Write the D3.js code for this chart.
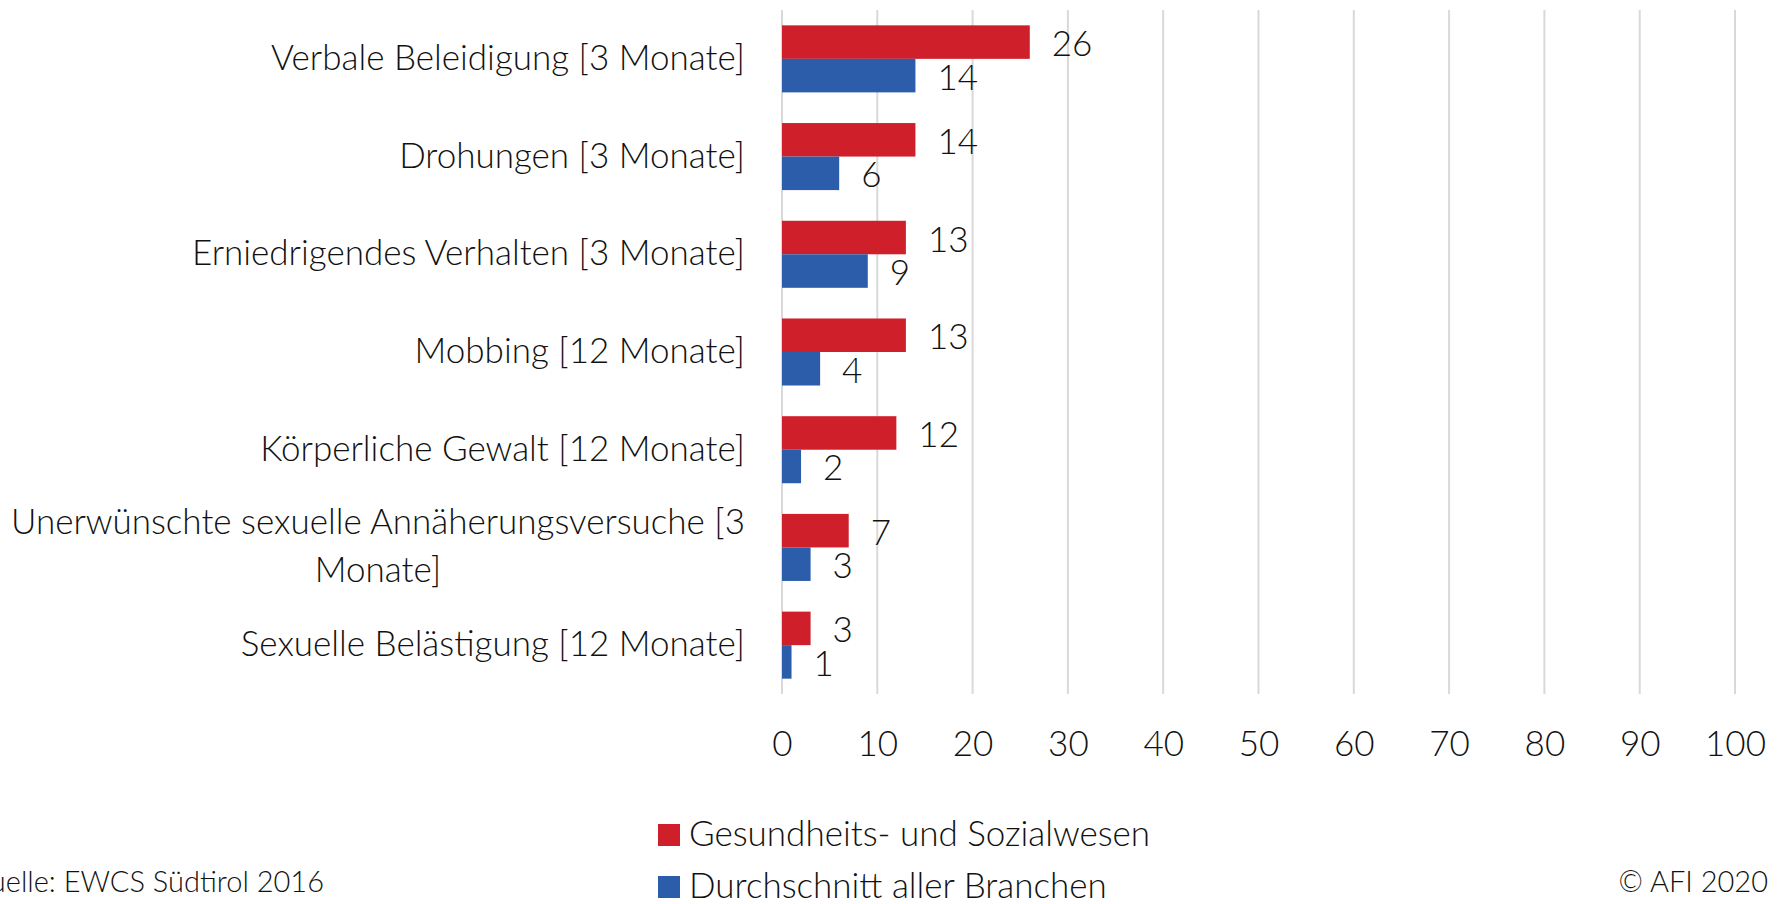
<!DOCTYPE html>
<html>
<head>
<meta charset="utf-8">
<style>
  body { margin: 0; background: #fff; }
  svg { display: block; }
  text { font-family: "Source Sans Pro", "Lato", sans-serif; font-weight: 300; fill: #111; }
</style>
</head>
<body>
<div class="chart"></div>
<script src="https://d3js.org/d3.v7.min.js"></script>
<script>
  // Daten
  const categories = [
    'Verbale Beleidigung [3 Monate]',
    'Drohungen [3 Monate]',
    'Erniedrigendes Verhalten [3 Monate]',
    'Mobbing [12 Monate]',
    'Körperliche Gewalt [12 Monate]',
    'Unerwünschte sexuelle Annäherungsversuche [3\nMonate]',
    'Sexuelle Belästigung [12 Monate]'
  ]
  const seriesNames = ['Gesundheits- und Sozialwesen', 'Durchschnitt aller Branchen']
  const gesundheit = [26, 14, 13, 13, 12, 7, 3]
  const durchschnitt = [14, 6, 9, 4, 2, 3, 1]
  const xTicks = [0, 10, 20, 30, 40, 50, 60, 70, 80, 90, 100]
  const sourceText = 'Quelle: EWCS Südtirol 2016'
  const copyText = '© AFI 2020'

  const colors = ['#CF1F2B', '#2B5DAA']
  const fontSize = 35
  const footSize = 29

  const width = 1783, height = 904
  const plot = { left: 782, right: 1735, top: 10, bottom: 694 }

  const svg = d3.select('.chart')
                .append('svg')
                .attr('width', width)
                .attr('height', height)

  const xScale = d3.scaleLinear()
                   .domain([0, 100])
                   .range([plot.left, plot.right])

  const yScale = d3.scaleBand()
                   .domain(categories)
                   .range([plot.top, plot.bottom])
                   .paddingInner(0.314)
                   .paddingOuter(0.157)

  const ySub = d3.scaleBand()
                 .domain(seriesNames)
                 .range([0, yScale.bandwidth()])

  // Gitterlinien
  svg.append('g')
     .selectAll('line')
     .data(xTicks)
     .join('line')
     .attr('x1', d => xScale(d))
     .attr('x2', d => xScale(d))
     .attr('y1', plot.top)
     .attr('y2', plot.bottom)
     .attr('stroke', '#d9d9d9')
     .attr('stroke-width', 2)

  // X-Achse (nur Beschriftung)
  const xAxis = d3.axisBottom(xScale)
                  .tickValues(xTicks)
                  .tickSize(0)
                  .tickFormat(d3.format('d'))
  const xAxisGroup = svg.append('g')
                        .attr('transform', `translate(0,${plot.bottom})`)
                        .call(xAxis)
  xAxisGroup.select('.domain').remove()
  xAxisGroup.selectAll('text')
            .attr('y', 62)
            .attr('dy', null)
            .style('font-size', fontSize + 'px')
            .style('font-family', null)
            .attr('fill', null)

  // Balken
  const rows = categories.map((c, i) => ({ cat: c, values: [gesundheit[i], durchschnitt[i]] }))
  const groups = svg.append('g')
                    .selectAll('g')
                    .data(rows)
                    .join('g')
                    .attr('transform', d => `translate(0,${yScale(d.cat)})`)

  groups.selectAll('rect')
        .data(d => d.values.map((v, j) => ({ name: seriesNames[j], v: v, j: j })))
        .join('rect')
        .attr('x', xScale(0))
        .attr('y', d => ySub(d.name))
        .attr('width', d => xScale(d.v) - xScale(0))
        .attr('height', ySub.bandwidth())
        .attr('fill', d => colors[d.j])

  groups.selectAll('text.val')
        .data(d => d.values.map((v, j) => ({ name: seriesNames[j], v: v })))
        .join('text')
        .attr('class', 'val')
        .attr('x', d => xScale(d.v) + 22)
        .attr('y', d => ySub(d.name) + ySub.bandwidth() / 2 + 14)
        .style('font-size', fontSize + 'px')
        .text(d => d.v)

  // Kategorien (mehrzeilig: Zeilen zentriert, Block rechtsbündig)
  const labelRight = plot.left - 37
  const lineH = 48
  categories.forEach(c => {
    const lines = c.split('\n')
    const cy = yScale(c) + yScale.bandwidth() / 2
    const g = svg.append('g')
    const texts = lines.map((l, k) => g.append('text')
        .attr('y', cy + (k - (lines.length - 1) / 2) * lineH + 11)
        .style('font-size', fontSize + 'px')
        .text(l))
    const maxW = d3.max(texts, t => t.node().getComputedTextLength())
    texts.forEach(t => t.attr('x', labelRight - maxW / 2).attr('text-anchor', 'middle'))
  })

  // Legende
  const legend = svg.append('g')
  seriesNames.forEach((n, i) => {
    const ly = 824 + i * 52
    legend.append('rect')
          .attr('x', 658).attr('y', ly)
          .attr('width', 22).attr('height', 22)
          .attr('fill', colors[i])
    legend.append('text')
          .attr('x', 689).attr('y', ly + 21.5)
          .style('font-size', fontSize + 'px')
          .text(n)
  })

  // Quelle / Copyright
  svg.append('text')
     .attr('x', 324).attr('y', 892)
     .attr('text-anchor', 'end')
     .style('font-size', footSize + 'px')
     .text(sourceText)
  svg.append('text')
     .attr('x', 1768).attr('y', 892)
     .attr('text-anchor', 'end')
     .style('font-size', footSize + 'px')
     .text(copyText)
</script>
</body>
</html>
